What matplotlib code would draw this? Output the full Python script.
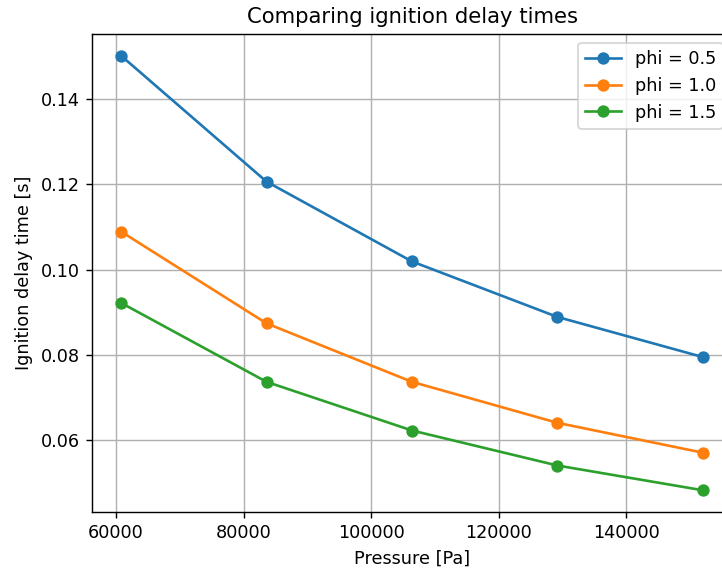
import matplotlib
matplotlib.use("Agg")
import matplotlib.pyplot as plt

# pressures (Pa) and ignition delay times (s)
pressure = [60795, 83593, 106391, 129189, 151988]
tau_phi05 = [0.1501, 0.1206, 0.1019, 0.0889, 0.0795]
tau_phi10 = [0.1089, 0.0874, 0.0737, 0.0641, 0.0571]
tau_phi15 = [0.0922, 0.0737, 0.0623, 0.0541, 0.0483]
labels = ["phi = 0.5", "phi = 1.0", "phi = 1.5"]

# reference looks like it was rendered at a higher dpi, so scale everything up
dpi = 127
fig = plt.figure(figsize=(722 / dpi, 570 / dpi), dpi=dpi)
# the reference is cropped on the right, so the axes run past the figure edge
ax = fig.add_axes([92 / 722, 1 - 512 / 570, (732 - 92) / 722, (512 - 34) / 570])

for tau, lab in zip([tau_phi05, tau_phi10, tau_phi15], labels):
    ax.plot(pressure, tau, marker="o", label=lab)

ax.set_xlabel("Pressure [Pa]")
ax.set_ylabel("Ignition delay time [s]")
ax.set_title("Comparing ignition delay times")
ax.grid(True)
ax.legend(loc="upper right")

fig.savefig("out.png", dpi=dpi)
